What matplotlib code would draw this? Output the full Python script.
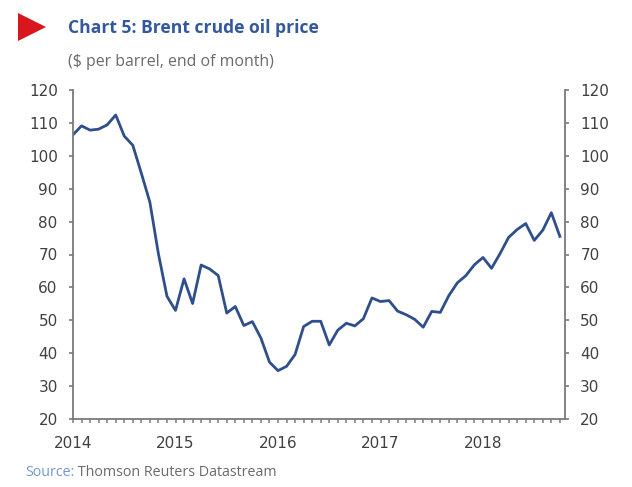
import matplotlib
matplotlib.use("Agg")
import matplotlib.pyplot as plt
from matplotlib.ticker import MultipleLocator, FixedLocator
from matplotlib.patches import Polygon, Rectangle

# Monthly end-of-month Brent price, Jan 2014 .. Oct 2018
start_year = 2014
prices = [
    106.4, 109.1, 107.8, 108.1, 109.4, 112.4, 106.0, 103.2, 94.7, 85.9, 70.2, 57.3,   # 2014
    53.0, 62.6, 55.1, 66.8, 65.6, 63.6, 52.2, 54.2, 48.4, 49.6, 44.6, 37.3,           # 2015
    34.7, 36.0, 39.6, 48.1, 49.7, 49.7, 42.5, 47.0, 49.1, 48.3, 50.5, 56.8,           # 2016
    55.7, 56.0, 52.8, 51.7, 50.3, 47.9, 52.7, 52.4, 57.5, 61.4, 63.6, 66.9,           # 2017
    69.1, 65.8, 70.3, 75.2, 77.6, 79.4, 74.3, 77.4, 82.7, 75.5,                       # 2018
]
year_ticks = [2014, 2015, 2016, 2017, 2018]
y_ticks = [20, 30, 40, 50, 60, 70, 80, 90, 100, 110, 120]

title = "Chart 5: Brent crude oil price"
subtitle = "($ per barrel, end of month)"
source_label = "Source:"
source_text = " Thomson Reuters Datastream"

x = [start_year + i / 12 for i in range(len(prices))]

W, H = 632, 487
fig = plt.figure(figsize=(W / 100, H / 100), dpi=100)
fig.patch.set_facecolor("white")

ax = fig.add_axes([73 / W, 1 - 419 / H, (565 - 73) / W, (419 - 90) / H])
line_color = "#2f4f8c"
ax.plot(x, prices, color=line_color, lw=2.0, solid_joinstyle="round")

ax.set_xlim(2014, 2018 + 9.6 / 12)
ax.set_ylim(20, 120)
ax.yaxis.set_major_locator(FixedLocator(y_ticks))
ax.xaxis.set_major_locator(FixedLocator(year_ticks))
ax.xaxis.set_minor_locator(MultipleLocator(1 / 12))

spine_c = "#7a7a7a"
for s in ["left", "bottom", "right"]:
    ax.spines[s].set_color(spine_c)
    ax.spines[s].set_linewidth(1.3)
ax.spines["top"].set_visible(False)

lab_c = "#404040"
ax.tick_params(axis="y", which="both", direction="out", length=3, width=1.2,
               color=spine_c, labelsize=11, labelcolor=lab_c, pad=8,
               left=True, right=True, labelleft=True, labelright=True)
ax.tick_params(axis="x", which="both", direction="out", length=3, width=1.1,
               color=spine_c, labelsize=11, labelcolor=lab_c, pad=9)
ax.set_xticklabels([str(y) for y in year_ticks])

# Title block
tri = Polygon([[18 / W, 1 - 13 / H], [18 / W, 1 - 41 / H], [46 / W, 1 - 27 / H]],
              closed=True, transform=fig.transFigure, facecolor="#d7161e",
              edgecolor="none")
fig.patches.append(tri)
fig.text(68 / W, 1 - 28 / H, title, fontsize=12.6, fontweight="bold",
         color="#34589c", family="Open Sans", va="center", ha="left")
fig.text(68 / W, 1 - 62 / H, subtitle, fontsize=11.4,
         color="#6a6a6a", family="Open Sans", va="center", ha="left")

t1 = fig.text(25 / W, 1 - 473 / H, source_label, fontsize=10.3,
              color="#6f9bd0", family="Open Sans", va="center", ha="left")
fig.canvas.draw()
bb = t1.get_window_extent()
fig.text(bb.x1 / W, 1 - 473 / H, source_text, fontsize=10.3,
         color="#6a6a6a", family="Open Sans", va="center", ha="left")

# reference image is cropped at its right side
fig.patches.append(Rectangle((609 / W, 0), 1, 1, transform=fig.transFigure,
                             facecolor="white", edgecolor="none", zorder=100))

fig.savefig("out.png", dpi=100)
